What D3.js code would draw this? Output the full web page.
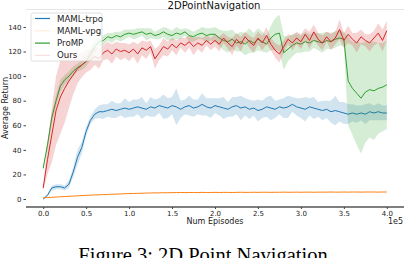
<!DOCTYPE html>
<html>
<head>
<meta charset="utf-8">
<script src="https://cdn.jsdelivr.net/npm/d3@7"></script>
<style>
  body { margin: 0; background: #fff; }
  svg { display: block; }
  text { font-family: 'DejaVu Sans', sans-serif; }
  .caption { font-family: 'Liberation Serif', 'Times New Roman', serif; }
</style>
</head>
<body>
<div class="chart"></div>
<script>
// episodes are sampled every 0.05e5
var step = 0.05;

var trpoMean = [0,3,9,10,10,9,12,22,34,42,
  55,64,69,71,71,72,73,72,73,74,
  73,74,75,74,73,75,74,76,75,74,
  76,75,73,75,76,74,75,77,75,74,
  76,75,74,73,75,76,74,75,73,74,
  72,73,75,74,73,75,74,75,77,75,
  74,73,75,74,73,72,73,71,72,71,
  70,69,70,69,70,69,71,70,71,70,
  70];
var trpoSd = [0.5,1,2,2,2,2,3,4,6,5,
  4,3,4,5,6,5,7,6,5,8,
  6,7,6,9,5,8,7,6,10,8,
  7,15,7,6,8,7,6,9,7,8,
  6,7,9,6,8,7,10,7,8,6,
  9,7,8,10,7,6,8,9,6,7,
  8,10,7,9,6,8,7,9,12,8,
  9,8,7,7,6,8,7,6,7,6,
  6];

var vpgMean = [1.0,1.2,1.4,1.6,1.8,2.0,2.2,2.4,2.6,2.8,
  3.0,3.1,3.3,3.4,3.6,3.7,3.9,4.0,4.1,4.3,
  4.4,4.5,4.6,4.7,4.8,4.9,5.0,5.0,5.1,5.1,
  5.2,5.2,5.3,5.2,5.3,5.3,5.2,5.4,5.3,5.3,
  5.4,5.3,5.4,5.4,5.3,5.4,5.5,5.4,5.4,5.5,
  5.4,5.5,5.5,5.4,5.5,5.5,5.6,5.5,5.5,5.6,
  5.5,5.6,5.6,5.5,5.6,5.6,5.6,5.7,5.6,5.6,
  5.7,5.6,5.7,5.7,5.6,5.7,5.7,5.7,5.6,5.7,
  5.7];

var prompMean = [25,44,66,80,92,97,100,104,107,109,
  112,118,124,128,129,132,131,133,132,134,
  135,134,135,136,134,135,133,134,136,134,
  133,135,134,136,133,132,134,135,133,134,
  134,131,129,128,130,127,128,126,129,127,
  130,128,126,131,134,135,119,122,125,127,
  126,128,127,129,128,127,129,128,130,131,
  130,96,90,86,82,87,89,88,90,91,
  93];
var prompSd = [2,3,4,5,5,4,4,4,3,4,
  4,5,5,4,4,3,4,3,4,4,
  3,4,4,3,5,4,3,4,4,5,
  4,5,4,3,5,4,4,5,6,5,
  6,7,8,9,8,7,8,9,10,8,
  9,8,7,10,13,15,14,10,9,8,
  7,8,7,6,7,8,7,6,7,6,
  6,36,38,42,45,41,39,40,37,36,
  36];

var oursMean = [9,32,52,72,83,90,96,101,106,109,
  112,113,116,114,119,121,118,122,120,121,
  119,122,118,123,121,124,114,119,124,122,
  126,123,127,125,128,124,127,125,129,126,
  129,126,131,127,124,130,126,132,128,125,
  131,127,133,126,121,118,124,130,127,131,
  128,134,129,136,130,127,132,128,131,138,
  129,134,130,127,132,129,127,131,135,129,
  137];
var oursSd = [2,12,22,28,30,28,22,16,12,10,
  9,8,7,8,6,7,8,6,7,6,
  7,6,8,6,7,5,8,6,7,6,
  5,6,4,6,5,7,5,6,4,5,
  5,6,4,5,7,5,6,4,5,6,
  5,6,7,5,6,7,5,4,6,5,
  6,5,7,6,5,6,4,7,5,8,
  6,7,5,8,6,5,7,6,8,9,
  8];

var xTicks = [0, 0.5, 1, 1.5, 2, 2.5, 3, 3.5, 4];
var yTicks = [0, 20, 40, 60, 80, 100, 120, 140];

var series = [
  {name: 'MAML-trpo', color: '#1f77b4', mean: trpoMean, sd: trpoSd, legendAlpha: 1},
  {name: 'MAML-vpg', color: '#ff7f0e', mean: vpgMean, sd: null, legendAlpha: 0.15},
  {name: 'ProMP', color: '#2ca02c', mean: prompMean, sd: prompSd, legendAlpha: 1},
  {name: 'Ours', color: '#d62728', mean: oursMean, sd: oursSd, legendAlpha: 0.15}
];

var settings = { w: 404, h: 258 };
var plot = { left: 26, right: 404, top: 9, bottom: 207 };

var svg = d3.select('.chart')
  .append('svg')
  .attr('width', settings.w)
  .attr('height', settings.h);

var x = d3.scaleLinear().domain([-0.2, 4.2]).range([plot.left, plot.right]);
var y = d3.scaleLinear().domain([-6.5, 154.6]).range([plot.bottom, plot.top]);

// frame: faint top spine, black bottom spine
svg.append('line')
  .attr('x1', plot.left).attr('x2', plot.right)
  .attr('y1', plot.top + 0.5).attr('y2', plot.top + 0.5)
  .attr('stroke', '#e6e6e6').attr('stroke-width', 1);

var area = d3.area()
  .x(function(d, i) { return x(i * step); })
  .y0(function(d) { return y(d[0] - d[1]); })
  .y1(function(d) { return y(d[0] + d[1]); });

var line = d3.line()
  .x(function(d, i) { return x(i * step); })
  .y(function(d) { return y(d); });

series.forEach(function(s) {
  if (s.sd) {
    var pairs = s.mean.map(function(m, i) { return [m, s.sd[i]]; });
    svg.append('path')
      .datum(pairs)
      .attr('d', area)
      .attr('fill', s.color)
      .attr('fill-opacity', 0.2);
  }
  svg.append('path')
    .datum(s.mean)
    .attr('d', line)
    .attr('fill', 'none')
    .attr('stroke', s.color)
    .attr('stroke-width', 1);
});

// axes
var xAxis = svg.append('g')
  .attr('transform', 'translate(0,' + plot.bottom + ')')
  .call(d3.axisBottom(x).tickValues(xTicks).tickSize(2).tickFormat(d3.format('.1f')));
xAxis.select('.domain').attr('stroke', '#000').attr('stroke-width', 1.2)
  .attr('d', 'M' + plot.left + ',0H' + plot.right);
xAxis.selectAll('.tick line').attr('stroke', '#444');
xAxis.selectAll('text').attr('font-family', null).attr('font-size', 7)
  .attr('fill', '#222').attr('dy', '0.55em');

var yAxis = svg.append('g')
  .attr('transform', 'translate(' + plot.left + ',0)')
  .call(d3.axisLeft(y).tickValues(yTicks).tickSize(2.5).tickPadding(2));
yAxis.select('.domain').remove();
yAxis.selectAll('.tick line').attr('stroke', '#444');
yAxis.selectAll('text').attr('font-family', null).attr('font-size', 7).attr('fill', '#222');

// labels
svg.append('text')
  .attr('x', 214).attr('y', 8.5)
  .attr('text-anchor', 'middle')
  .attr('font-size', 10)
  .attr('fill', '#111')
  .text('2DPointNavigation');

svg.append('text')
  .attr('x', 215).attr('y', 224)
  .attr('text-anchor', 'middle')
  .attr('font-size', 8)
  .attr('fill', '#222')
  .text('Num Episodes');

svg.append('text')
  .attr('x', 403).attr('y', 224)
  .attr('text-anchor', 'end')
  .attr('font-size', 8)
  .attr('fill', '#222')
  .text('1e5');

svg.append('text')
  .attr('transform', 'translate(7.5,' + ((plot.top + plot.bottom) / 2) + ') rotate(-90)')
  .attr('text-anchor', 'middle')
  .attr('font-size', 8)
  .attr('fill', '#222')
  .text('Average Return');

// legend
var legend = svg.append('g').attr('transform', 'translate(31,13)');
legend.append('rect')
  .attr('width', 71).attr('height', 48)
  .attr('rx', 2)
  .attr('fill', '#fff').attr('fill-opacity', 0.8)
  .attr('stroke', '#d8d8d8').attr('stroke-width', 0.8);

var items = legend.selectAll('.item')
  .data(series)
  .enter()
  .append('g')
  .attr('transform', function(d, i) { return 'translate(0,' + (5.5 + i * 12.3) + ')'; });
items.append('line')
  .attr('x1', 4).attr('x2', 19)
  .attr('stroke', function(d) { return d.color; })
  .attr('stroke-opacity', function(d) { return d.legendAlpha; })
  .attr('stroke-width', 1.2);
items.append('text')
  .attr('x', 26).attr('dy', '0.35em')
  .attr('font-size', 8.6)
  .attr('fill', '#222')
  .text(function(d) { return d.name; });

// caption under the figure
svg.append('text')
  .attr('class', 'caption')
  .attr('x', 203).attr('y', 262)
  .attr('text-anchor', 'middle')
  .attr('font-size', 20.5)
  .attr('fill', '#000')
  .text('Figure 3: 2D Point Navigation');
</script>
</body>
</html>
